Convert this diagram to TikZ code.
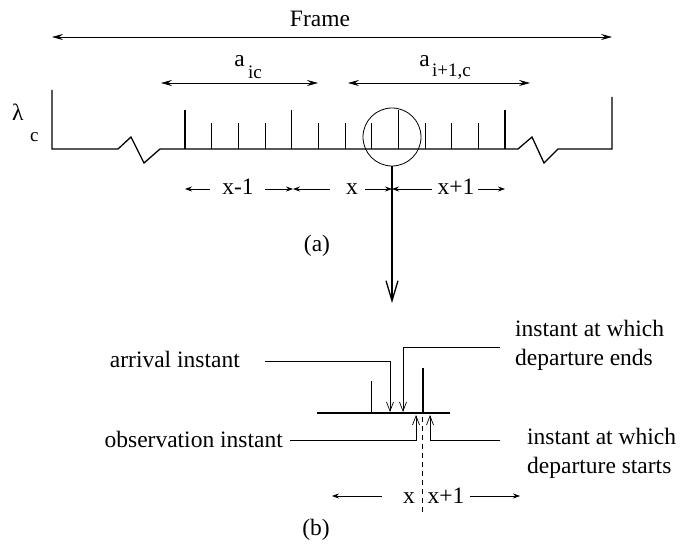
\documentclass[tikz,border=0pt]{standalone}
\usepackage{fontspec}
\setmainfont{Liberation Serif}
\usetikzlibrary{arrows.meta}
\begin{document}
\begin{tikzpicture}[x=1pt,y=-1pt,
  txt/.style={font=\fontsize{23.5}{29}\selectfont,inner sep=0pt,anchor=base},
  subtxt/.style={font=\fontsize{19}{22}\selectfont,inner sep=0pt,anchor=base west},
  profile/.style={line width=1.3pt,line join=miter},
  talltick/.style={line width=1.4pt},
  shorttick/.style={line width=0.8pt},
  longarr/.style={line width=0.6pt,{Stealth[length=11pt,width=6pt,inset=4pt]}-{Stealth[length=11pt,width=6pt,inset=4pt]}},
  dimarr/.style={line width=0.7pt,-{Stealth[length=7pt,width=5pt]}},
  bigarr/.style={line width=1.3pt,-{Straight Barb[length=20pt,width=12pt]}},
  ptr/.style={line width=0.7pt,-{Straight Barb[length=9pt,width=7pt]}},
  dashln/.style={line width=0.7pt,dash pattern=on 5pt off 4pt},
]
\useasboundingbox (0,0) rectangle (681,548);

% ---------- part (a) ----------
\node[txt] (frame) at (320,27) {Frame};
\coordinate (fL) at (52,37); \coordinate (fR) at (612,37);
\draw[longarr] (fL) -- (fR);

\node[txt,anchor=base east] (aic) at (245,67) {a};
\node[subtxt] (aicsub) at (248,79) {ic};
\coordinate (aL) at (161,83); \coordinate (aR) at (318,83);
\draw[longarr] (aL) -- (aR);

\node[txt,anchor=base east] (ainc) at (430,67) {a};
\node[subtxt] (aincsub) at (432,77) {i+1,c};
\coordinate (bL) at (348,83); \coordinate (bR) at (530,83);
\draw[longarr] (bL) -- (bR);

\node[txt,anchor=base west] (lam) at (12,121) {λ};
\node[subtxt] (lamc) at (30,142) {c};

\draw[profile] (52,90) -- (52,149) -- (118,149) -- (131,137) -- (144,163) -- (160,149)
  -- (518,149) -- (532,137) -- (544,163) -- (558,149) -- (612,149) -- (612,97);

\foreach \i in {0,...,12}{
  \pgfmathsetmacro{\xx}{185+\i*26.667}
  \pgfmathtruncatemacro{\m}{mod(\i,4)}
  \ifnum\m=0
    \draw[talltick] (\xx,110) -- (\xx,149);
  \else
    \draw[shorttick] (\xx,123) -- (\xx,149);
  \fi
}

\node[draw,circle,minimum size=58pt,inner sep=0pt,line width=0.8pt] (zm) at (392,137) {};
\coordinate (vt) at (392,303);
\draw[bigarr] (zm.south) -- (vt);

% dimension row
\coordinate (d0) at (185,189); \coordinate (d0t) at (210,189);
\coordinate (d1s) at (265,189); \coordinate (d1) at (293,189);
\coordinate (d1t) at (330,189);
\coordinate (d2s) at (365,189); \coordinate (d2) at (392,189);
\coordinate (d2t) at (432,189);
\coordinate (d3s) at (478,189); \coordinate (d3) at (505,189);
\draw[dimarr] (d0t) -- (d0);
\draw[dimarr] (d1s) -- (d1);
\draw[dimarr] (d1t) -- (d1);
\draw[dimarr] (d2s) -- (d2);
\draw[dimarr] (d2t) -- (d2);
\draw[dimarr] (d3s) -- (d3);
\node[txt] (xm1) at (238,195) {x-1};
\node[txt] (xa) at (352,195) {x};
\node[txt] (xp1) at (456,195) {x+1};

\node[txt] (labA) at (317,252) {(a)};

% ---------- part (b) ----------
\draw[line width=1.3pt] (317,413) -- (450,413);
\draw[shorttick] (371,381) -- (371,413);
\draw[talltick] (423,368) -- (423,413);

\node[txt,anchor=base east] (arr) at (240,368) {arrival instant};
\coordinate (arrS) at (265,361); \coordinate (arrT) at (390,412);
\draw[ptr] (arrS) -| (arrT);

\node[txt,anchor=base west] (de1) at (515,337) {instant at which};
\node[txt,anchor=base west] (de2) at (515,366) {departure ends};
\coordinate (deS) at (500,347); \coordinate (deT) at (403,412);
\draw[ptr] (deS) -| (deT);

\node[txt,anchor=base east] (obs) at (283,447) {observation instant};
\coordinate (obS) at (290,440); \coordinate (obT) at (416,415);
\draw[ptr] (obS) -| (obT);

\node[txt,anchor=base west] (ds1) at (527,444) {instant at which};
\node[txt,anchor=base west] (ds2) at (527,473) {departure starts};
\coordinate (dsS) at (500,440); \coordinate (dsT) at (430,415);
\draw[ptr] (dsS) -| (dsT);

\coordinate (dT) at (422,417); \coordinate (dB) at (422,513);
\draw[dashln] (dT) -- (dB);

\node[txt] (xb) at (409,503) {x};
\node[txt] (xbp) at (446,503) {x+1};
\coordinate (eL) at (332,496); \coordinate (eLs) at (382,496);
\coordinate (eRs) at (470,496); \coordinate (eR) at (520,496);
\draw[dimarr] (eLs) -- (eL);
\draw[dimarr] (eRs) -- (eR);

\node[txt] (labB) at (316,535) {(b)};
\end{tikzpicture}
\end{document}
